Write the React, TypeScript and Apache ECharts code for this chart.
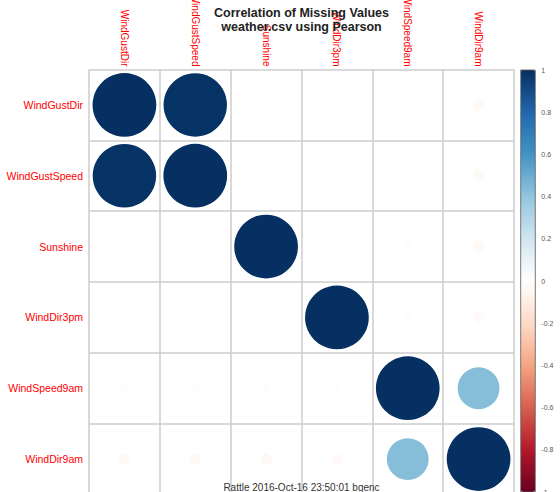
import React, { useEffect, useRef } from "react";
import * as echarts from "echarts";

// Variables with missing values, in plotting order (top-to-bottom, left-to-right)
const variables = [
  "WindGustDir",
  "WindGustSpeed",
  "Sunshine",
  "WindDir3pm",
  "WindSpeed9am",
  "WindDir9am",
];

// Pearson correlation of the missing-value indicators
const rowWindGustDir = [1, 0.99, -0.003, -0.008, -0.017, -0.034];
const rowWindGustSpeed = [0.99, 1, -0.003, -0.008, -0.011, -0.034];
const rowSunshine = [-0.003, -0.003, 1, -0.002, -0.016, -0.035];
const rowWindDir3pm = [-0.008, -0.008, -0.002, 1, -0.012, -0.03];
const rowWindSpeed9am = [-0.017, -0.011, -0.016, -0.012, 1, 0.43];
const rowWindDir9am = [-0.034, -0.034, -0.035, -0.03, 0.43, 1];
const corrRows = [
  rowWindGustDir,
  rowWindGustSpeed,
  rowSunshine,
  rowWindDir3pm,
  rowWindSpeed9am,
  rowWindDir9am,
];

// Diverging red-white-blue ramp, from -1 to 1
const rampColors = [
  "#67001F",
  "#B2182B",
  "#D6604D",
  "#F4A582",
  "#FDDBC7",
  "#FFFFFF",
  "#D1E5F0",
  "#92C5DE",
  "#4393C3",
  "#2166AC",
  "#053061",
];

const titleText = "Correlation of Missing Values\nweather.csv using Pearson";
const footerText = "Rattle 2016-Oct-16 23:50:01 bgenc";

const FONT = "'Liberation Sans', Arial, Helvetica, sans-serif";

// Layout of the matrix and the colour key
const GRID_LEFT = 89;
const GRID_TOP = 69.5;
const GRID_SIZE = 425;
const CELL = GRID_SIZE / variables.length;
const KEY_LEFT = 520.7;
const KEY_TOP = 70;
const KEY_WIDTH = 14.6;
const KEY_HEIGHT = 422;

export default function App() {
  const ref = useRef<HTMLDivElement>(null);

  useEffect(() => {
    if (!ref.current) return;
    const chart = echarts.init(ref.current, undefined, { renderer: "svg" });

    const cells: number[][] = [];
    corrRows.forEach((row, i) => {
      row.forEach((v, j) => {
        cells.push([j, i, v]);
      });
    });

    const gridLine = { color: "#cccccc", width: 1.5 };
    const centerX = GRID_LEFT + GRID_SIZE / 2;

    chart.setOption({
      animation: false,
      backgroundColor: "#ffffff",
      grid: [
        {
          left: GRID_LEFT,
          top: GRID_TOP,
          width: GRID_SIZE,
          height: GRID_SIZE,
          show: false,
          containLabel: false,
          outerBoundsMode: "none",
        },
        {
          left: KEY_LEFT,
          top: KEY_TOP,
          width: KEY_WIDTH,
          height: KEY_HEIGHT,
          show: false,
          containLabel: false,
          outerBoundsMode: "none",
        },
      ],
      xAxis: [
        {
          gridIndex: 0,
          type: "category",
          data: variables,
          position: "top",
          boundaryGap: true,
          axisLine: { show: false },
          axisTick: { show: false },
          axisLabel: {
            interval: 0,
            rotate: 90,
            align: "right",
            verticalAlign: "middle",
            color: "#ff0000",
            fontSize: 10,
            fontFamily: FONT,
            margin: 3,
          },
          splitLine: { show: true, interval: 0, lineStyle: gridLine },
        },
        { gridIndex: 1, type: "value", min: 0, max: 1, show: false },
      ],
      yAxis: [
        {
          gridIndex: 0,
          type: "category",
          data: variables,
          inverse: true,
          boundaryGap: true,
          axisLine: { show: false },
          axisTick: { show: false },
          axisLabel: {
            interval: 0,
            color: "#ff0000",
            fontSize: 10.5,
            fontFamily: FONT,
            margin: 6,
          },
          splitLine: { show: true, interval: 0, lineStyle: gridLine },
        },
        {
          gridIndex: 1,
          type: "value",
          position: "right",
          min: -1,
          max: 1,
          interval: 0.2,
          axisLine: { show: false },
          axisTick: { show: true, length: 3, lineStyle: { color: "#444444", width: 1 } },
          axisLabel: { fontSize: 7, color: "#555555", fontFamily: FONT, margin: 6 },
          splitLine: { show: false },
        },
      ],
      visualMap: {
        type: "continuous",
        min: -1,
        max: 1,
        dimension: 2,
        seriesIndex: 0,
        inRange: { color: rampColors },
        show: true,
        calculable: false,
        hoverLink: false,
        left: KEY_LEFT,
        top: KEY_TOP,
        itemWidth: KEY_WIDTH,
        itemHeight: KEY_HEIGHT,
        padding: 0,
      },
      series: [
        {
          type: "scatter",
          xAxisIndex: 0,
          yAxisIndex: 0,
          data: cells,
          symbol: "circle",
          symbolSize: (v: number[]) => 0.9 * CELL * Math.sqrt(Math.abs(v[2])),
          itemStyle: { opacity: 1 },
          silent: true,
        },
      ],
      graphic: [
        {
          type: "text",
          x: centerX,
          y: 5.7,
          z: 50,
          style: {
            text: titleText,
            fill: "#222222",
            fontSize: 12.5,
            fontWeight: "bold",
            fontFamily: FONT,
            lineHeight: 14,
            align: "center",
            verticalAlign: "top",
            textAlign: "center",
            textVerticalAlign: "top",
          },
        },
        {
          type: "text",
          x: centerX,
          y: 487,
          z: 50,
          style: {
            text: footerText,
            fill: "#333333",
            fontSize: 10,
            fontFamily: FONT,
            align: "center",
            verticalAlign: "middle",
            textAlign: "center",
            textVerticalAlign: "middle",
          },
        },
        {
          type: "rect",
          z: 60,
          shape: { x: KEY_LEFT, y: KEY_TOP, width: KEY_WIDTH, height: KEY_HEIGHT },
          style: { fill: "none", stroke: "#555555", lineWidth: 0.8 },
        },
      ],
    });

    return () => chart.dispose();
  }, []);

  return (
    <div
      ref={ref}
      style={{ position: "fixed", left: 0, top: 0, width: 560, height: 492 }}
    />
  );
}
